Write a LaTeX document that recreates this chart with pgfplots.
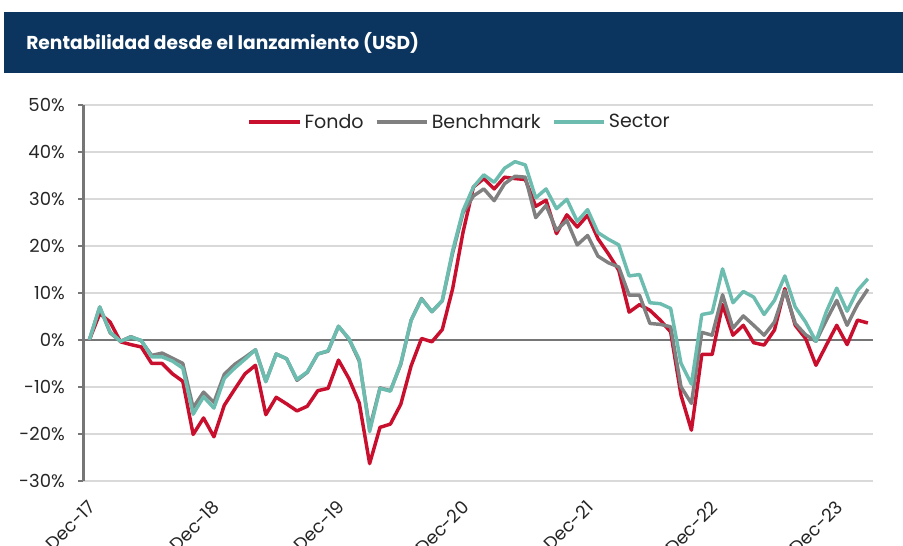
\documentclass[border=0pt]{standalone}
\usepackage{pgfplots}
\pgfplotsset{compat=1.18}
\usepackage{pgfplotstable}
\usepackage{fontspec}
\setmainfont{Poppins}
\definecolor{navy}{HTML}{0B355E}
\definecolor{fondo}{HTML}{C8102E}
\definecolor{bench}{HTML}{808080}
\definecolor{sector}{HTML}{6DBCB0}
\definecolor{gridgray}{HTML}{D9D9D9}
\definecolor{axisgray}{HTML}{767676}
\pgfplotstableread{
m f b s
0 0 0 0
1 5.6 7.0 7.0
2 3.8 1.5 1.7
3 -0.4 -0.3 -0.3
4 -1.0 0.7 0.6
5 -1.5 -0.2 -0.1
6 -5.0 -3.3 -3.6
7 -5.0 -2.8 -3.6
8 -7.2 -3.9 -4.5
9 -8.8 -5.0 -6.0
10 -20.1 -14.4 -15.8
11 -16.6 -11.1 -12.1
12 -20.6 -13.3 -14.5
13 -13.9 -7.3 -8.2
14 -10.5 -5.2 -6.0
15 -7.2 -3.7 -4.1
16 -5.4 -2.1 -2.1
17 -15.9 -8.8 -8.9
18 -12.2 -3.0 -3.0
19 -13.6 -4.0 -4.0
20 -15.1 -8.6 -8.4
21 -14.1 -6.9 -6.8
22 -10.8 -3.0 -3.0
23 -10.3 -2.4 -2.3
24 -4.3 2.9 2.9
25 -8.2 0.2 0.3
26 -13.4 -4.5 -4.2
27 -26.3 -18.8 -19.5
28 -18.6 -10.2 -10.3
29 -17.9 -10.8 -10.9
30 -13.7 -5.2 -5.0
31 -5.5 4.2 4.2
32 0.3 8.8 8.7
33 -0.4 6.0 6.0
34 2.2 8.3 8.4
35 10.9 18.5 19.0
36 22.9 27.0 27.5
37 32.5 30.6 32.5
38 34.3 32.1 35.1
39 32.1 29.6 33.5
40 34.6 33.2 36.5
41 34.3 34.8 37.9
42 34.1 34.6 37.2
43 28.4 26.0 30.2
44 29.7 28.6 32.1
45 22.6 23.3 27.9
46 26.6 25.4 29.9
47 24.0 20.2 25.2
48 26.5 22.2 27.7
49 21.5 17.8 22.8
50 18.3 16.4 21.4
51 14.8 15.5 20.2
52 5.9 9.5 13.6
53 7.5 9.5 13.9
54 6.3 3.5 7.9
55 4.2 3.3 7.7
56 1.7 2.8 6.7
57 -11.8 -10.0 -5.0
58 -19.2 -13.5 -9.4
59 -3.1 1.6 5.4
60 -3.1 1.0 5.8
61 7.5 9.6 15.1
62 1.0 2.5 7.9
63 3.1 5.1 10.3
64 -0.6 3.1 9.1
65 -1.1 1.0 5.4
66 2.1 3.8 8.4
67 10.9 10.5 13.6
68 3.1 3.5 7.0
69 0.3 1.1 3.8
70 -5.4 -0.3 -0.3
71 -1.1 4.2 6.0
72 3.1 8.4 11.0
73 -1.0 3.1 6.1
74 4.2 7.5 10.5
75 3.6 10.8 13.0
}\datatable
\begin{document}
\begin{tikzpicture}
\path[use as bounding box] (0,0) rectangle (677.25pt,409.5pt);
\fill[navy] (3pt,354.75pt) rectangle (677.25pt,400.5pt);
\node[anchor=west, text=white, font=\bfseries\fontsize{14}{16}\selectfont, inner sep=0pt] at (19.5pt,377.5pt) {Rentabilidad desde el lanzamiento (USD)};
\begin{axis}[
  at={(62.5pt,48.75pt)}, anchor=south west,
  scale only axis, width=592.3pt, height=282.2pt,
  xmin=-0.58, xmax=75.5, ymin=-30, ymax=50,
  axis y line*=left, axis x line*=bottom,
  x axis line style={draw=none},
  y axis line style={draw=axisgray, line width=1.9pt},
  xtick={0,12,...,72},
  xticklabels={Dec-17,Dec-18,Dec-19,Dec-20,Dec-21,Dec-22,Dec-23},
  xtick style={draw=none},
  xticklabel style={xshift=2pt, yshift=-13.5pt, rotate=45, anchor=east, inner sep=0pt, font=\fontsize{13.5}{15}\selectfont, text=black!85},
  ytick={-30,-20,...,50},
  yticklabels={-30\%,-20\%,-10\%,0\%,10\%,20\%,30\%,40\%,50\%},
  yticklabel style={anchor=east, inner sep=0pt, xshift=-10pt, font=\fontsize{13.5}{15}\selectfont, text=black!85},
  ytick style={draw=axisgray, line width=1.2pt},
  tick align=outside, major tick length=3.75pt,
  ymajorgrids, grid style={draw=gridgray, line width=1.5pt},
  extra y ticks={0}, extra y tick labels={},
  extra y tick style={grid=major, major grid style={draw=axisgray, line width=1.6pt}},
  legend columns=3,
  legend style={draw=none, fill=none, at={(0.477,0.954)}, anchor=center, font=\fontsize{14.3}{16}\selectfont, text=black!85, /tikz/every even column/.append style={column sep=6.5pt}},
  legend image code/.code={\draw[#1, line width=2.6pt] (0pt,0pt) -- (38pt,0pt);},
  every axis plot/.append style={line width=2.6pt, line join=round},
]
\addplot[fondo] table[x=m,y=f] {\datatable};
\addlegendentry{Fondo}
\addplot[bench] table[x=m,y=b] {\datatable};
\addlegendentry{Benchmark}
\addplot[sector] table[x=m,y=s] {\datatable};
\addlegendentry{Sector}
\end{axis}
\end{tikzpicture}
\end{document}
